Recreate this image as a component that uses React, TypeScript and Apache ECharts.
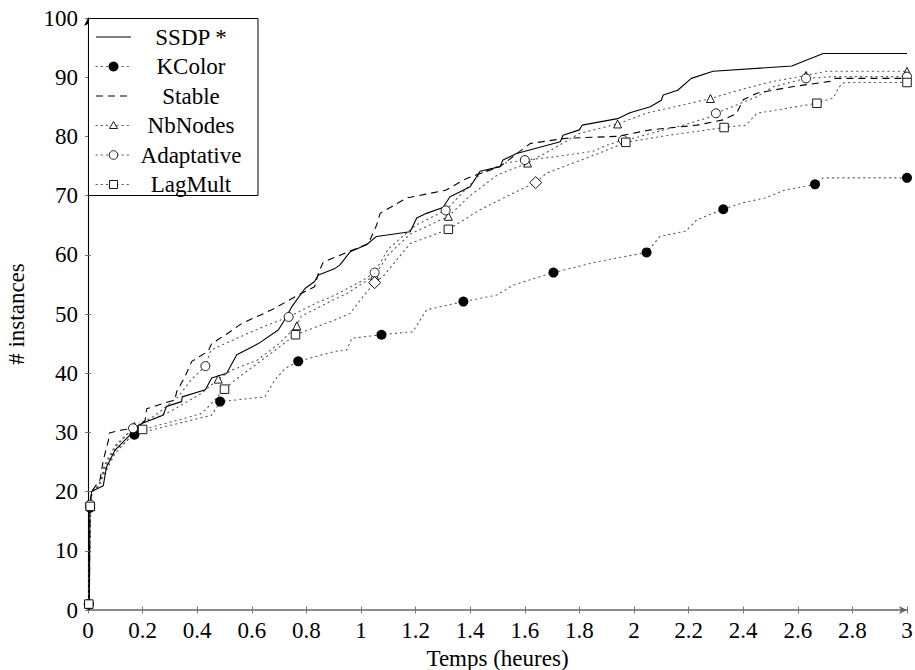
import React, { useEffect, useRef } from "react";
import * as echarts from "echarts";

// ---- axis set-up ----
const xRange = [0, 3];
const xStep = 0.2;
const yRange = [0, 100];
const yStep = 10;
const xTitle = "Temps (heures)";
const yTitle = "# instances";

// ---- series names ----
const seriesNames = ["SSDP *", "KColor", "Stable", "NbNodes", "Adaptative", "LagMult"];

// ---- curves (x in hours, y in instances) ----
const ssdp = [
  [0.005, 0], [0.007, 17.5], [0.013, 20], [0.056, 21], [0.068, 24.2], [0.099, 27], [0.135, 28.7],
  [0.172, 30.4], [0.197, 31.5], [0.275, 32.9], [0.288, 34.4], [0.343, 35.2], [0.345, 36], [0.43, 37.2],
  [0.453, 39.2], [0.508, 40], [0.545, 43.1], [0.624, 45], [0.697, 47.3], [0.72, 49], [0.746, 51.2],
  [0.795, 54.3], [0.83, 55.5], [0.844, 56.6], [0.905, 57.7], [0.923, 58.3], [0.96, 60.5], [1.02, 61.7],
  [1.057, 63.1], [1.18, 63.9], [1.204, 66.2], [1.24, 67], [1.3, 68], [1.326, 69.8], [1.4, 71.5],
  [1.436, 74.1], [1.51, 74.9], [1.52, 76], [1.57, 77.1], [1.73, 79.1], [1.74, 80.2], [1.8, 81.1],
  [1.81, 81.9], [1.94, 83], [1.985, 84], [2.06, 85], [2.1, 86.1], [2.107, 87], [2.16, 87.8],
  [2.21, 89.8], [2.29, 91], [2.578, 91.9], [2.693, 94], [3.0, 94],
];
const stable = [
  [0.005, 0], [0.007, 17.5], [0.013, 20], [0.044, 22], [0.056, 25.3], [0.075, 28.7], [0.078, 29.9],
  [0.123, 30.4], [0.172, 30.7], [0.209, 32], [0.215, 34], [0.318, 35.5], [0.325, 36.9], [0.355, 39.4],
  [0.38, 42], [0.44, 43.7], [0.453, 45], [0.514, 46.8], [0.563, 48.4], [0.673, 50.7], [0.782, 53.5],
  [0.83, 54.6], [0.844, 56.9], [0.862, 58.8], [0.911, 59.7], [1.027, 61.9], [1.057, 65], [1.07, 67],
  [1.167, 69.6], [1.31, 70.9], [1.387, 72.9], [1.509, 74.9], [1.62, 78.8], [1.753, 79.7], [1.937, 80],
  [2.06, 81.1], [2.23, 81.9], [2.327, 82.8], [2.376, 83.9], [2.4, 86.2], [2.45, 87.3], [2.58, 88.4],
  [2.718, 89.3], [2.73, 89.8], [3.0, 89.8],
];
const kcolor = [
  [0, 0], [0.003, 1], [0.008, 17.3], [0.015, 20], [0.04, 21], [0.06, 23.5], [0.1, 27], [0.17, 29.6],
  [0.233, 30.4], [0.453, 32.9], [0.484, 35.2], [0.648, 36], [0.685, 38.9], [0.722, 40.8], [0.77, 42],
  [0.905, 43.7], [0.948, 43.9], [0.966, 45.9], [1.075, 46.5], [1.19, 47], [1.24, 50.7], [1.375, 52.1],
  [1.497, 53.2], [1.558, 54.9], [1.705, 57], [1.863, 58.8], [2.046, 60.4], [2.095, 63.1], [2.19, 64],
  [2.23, 65.9], [2.327, 67.7], [2.4, 68.8], [2.48, 69.6], [2.55, 70.9], [2.663, 71.9], [2.693, 73], [3.0, 73],
];
const nbNodes = [
  [0, 0], [0.003, 1], [0.008, 17.5], [0.015, 20], [0.04, 21], [0.06, 24], [0.1, 27.5], [0.17, 31],
  [0.3, 33.5], [0.416, 36.6], [0.477, 39], [0.526, 40.5], [0.62, 42.2], [0.7, 45], [0.765, 48],
  [0.78, 49.6], [0.9, 52.4], [0.95, 53.5], [1.0, 55], [1.05, 56.5], [1.1, 60], [1.18, 63.5], [1.32, 66.5],
  [1.4, 70], [1.5, 73.5], [1.61, 75.5], [1.7, 77.8], [1.8, 80.5], [1.94, 82.1], [2.05, 84], [2.15, 85],
  [2.28, 86.4], [2.4, 88], [2.5, 89.2], [2.63, 90.3], [2.705, 91], [3.0, 91],
];
const adaptative = [
  [0, 0], [0.003, 1], [0.008, 17.8], [0.015, 20], [0.04, 21], [0.06, 24.5], [0.1, 27.8], [0.165, 30.7],
  [0.25, 33], [0.33, 36], [0.38, 39], [0.43, 41.2], [0.45, 43.9], [0.55, 46], [0.65, 48], [0.735, 49.5],
  [0.82, 51.5], [0.905, 53.2], [1.0, 55.5], [1.05, 57], [1.1, 61], [1.2, 65], [1.31, 67.5], [1.38, 70.9],
  [1.44, 73.8], [1.53, 75.5], [1.6, 76], [1.7, 76.5], [1.85, 77.5], [1.9, 78.5], [1.96, 79.4], [2.0, 79.7],
  [2.06, 80.5], [2.18, 81.9], [2.28, 83.3], [2.3, 83.9], [2.45, 86.7], [2.51, 88.4], [2.63, 89.8],
  [2.73, 90.1], [3.0, 90.1],
];
const lagMult = [
  [0, 0], [0.003, 1], [0.008, 17.5], [0.015, 20], [0.04, 21], [0.06, 23], [0.1, 26.5], [0.15, 29],
  [0.2, 30.5], [0.355, 32.4], [0.416, 33.2], [0.453, 34.9], [0.5, 37.3], [0.54, 38.9], [0.66, 43],
  [0.76, 46.5], [0.905, 49], [0.96, 50.1], [1.0, 52.5], [1.05, 55.3], [1.08, 56.3], [1.18, 61.9],
  [1.32, 64.3], [1.436, 67.6], [1.557, 70.4], [1.64, 72.2], [1.68, 73.8], [1.875, 77.2], [1.97, 79],
  [2.1, 80], [2.33, 81.5], [2.41, 81.9], [2.45, 83.9], [2.67, 85.6], [2.73, 86.5], [2.75, 88.3],
  [2.77, 89.1], [3.0, 89.1],
];

// ---- marked points ----
const kcolorMarks = [
  [0.003, 1], [0.008, 17.3], [0.17, 29.6], [0.484, 35.2], [0.77, 42], [1.075, 46.5], [1.375, 52.1],
  [1.705, 57], [2.046, 60.4], [2.327, 67.7], [2.663, 71.9], [3.0, 73],
];
const nbNodesMarks = [
  [0.003, 1], [0.008, 17.5], [0.17, 31], [0.477, 39], [0.765, 48], [1.05, 56.5], [1.32, 66.5],
  [1.61, 75.5], [1.94, 82.1], [2.28, 86.4], [2.63, 90.3], [3.0, 91],
];
const adaptativeMarks = [
  [0.003, 1], [0.008, 17.8], [0.165, 30.7], [0.43, 41.2], [0.735, 49.5], [1.05, 57], [1.31, 67.5],
  [1.6, 76], [1.96, 79.4], [2.3, 83.9], [2.63, 89.8], [3.0, 90.1],
];
const lagMultMarks = [
  [0.003, 1], [0.008, 17.5], [0.2, 30.5], [0.5, 37.3], [0.76, 46.5], [1.05, 55.3], [1.32, 64.3],
  [1.64, 72.2], [1.97, 79], [2.33, 81.5], [2.67, 85.6], [3.0, 89.1],
];
const lagMultTurned = [5, 7];

const FONT = "Liberation Serif, DejaVu Serif, serif";
const DOT = "#555";

export default function App() {
  const ref = useRef<HTMLDivElement>(null);

  useEffect(() => {
    if (!ref.current) return;
    const chart = echarts.init(ref.current, undefined, { renderer: "svg" });

    const solid = { color: "#000", width: 1.1, type: "solid" as const };
    const dashed = { color: "#000", width: 1.1, type: [7, 5] };
    const dotted = { color: DOT, width: 1.1, type: [1.2, 4], cap: "round" };

    const lineSeries = (name: string, data: number[][], ls: any) => ({
      name,
      type: "line",
      data,
      symbol: "none",
      lineStyle: ls,
      z: 2,
      animation: false,
    });
    const markSeries = (name: string, data: any[], symbol: string, size: number, filled: boolean) => ({
      name: name + " marks",
      type: "scatter",
      data,
      symbol,
      symbolSize: size,
      itemStyle: filled
        ? { color: "#000", opacity: 1 }
        : { color: "#fff", borderColor: "#000", borderWidth: 0.9, opacity: 1 },
      z: 3,
      animation: false,
    });

    // legend drawn in a framed box
    const lx0 = 88.5, ly0 = 18.5, lw = 169.5, lh = 177;
    const rowY = (i: number) => 37 + i * 29.5;
    const legendStyles = [
      { ls: solid, mark: null },
      { ls: dotted, mark: "fcircle" },
      { ls: dashed, mark: null },
      { ls: dotted, mark: "triangle" },
      { ls: dotted, mark: "circle" },
      { ls: dotted, mark: "square" },
    ];
    const graphic: any[] = [
      {
        type: "rect",
        z: 100,
        shape: { x: lx0, y: ly0, width: lw, height: lh },
        style: { fill: "#fff", stroke: "#000", lineWidth: 1 },
      },
    ];
    seriesNames.forEach((name, i) => {
      const y = rowY(i);
      const st = legendStyles[i];
      graphic.push({
        type: "line",
        z: 101,
        shape: { x1: 96, y1: y, x2: 131, y2: y },
        style: {
          stroke: st.ls.color,
          lineWidth: st.ls.width,
          lineDash: Array.isArray(st.ls.type) ? st.ls.type : null,
          lineCap: st.ls === dotted ? "round" : "butt",
        },
      });
      const cx = 113.5;
      if (st.mark === "fcircle") {
        graphic.push({ type: "circle", z: 102, shape: { cx, cy: y, r: 5 }, style: { fill: "#000" } });
      } else if (st.mark === "circle") {
        graphic.push({ type: "circle", z: 102, shape: { cx, cy: y, r: 4.3 }, style: { fill: "#fff", stroke: "#000", lineWidth: 0.9 } });
      } else if (st.mark === "triangle") {
        graphic.push({
          type: "polygon", z: 102,
          shape: { points: [[cx, y - 4], [cx + 4, y + 3], [cx - 4, y + 3]] },
          style: { fill: "#fff", stroke: "#000", lineWidth: 0.9 },
        });
      } else if (st.mark === "square") {
        graphic.push({ type: "rect", z: 102, shape: { x: cx - 4, y: y - 4, width: 8, height: 8 }, style: { fill: "#fff", stroke: "#000", lineWidth: 0.9 } });
      }
      graphic.push({
        type: "text",
        z: 102,
        x: 191,
        y,
        style: {
          text: name,
          fontFamily: FONT,
          fontSize: 23,
          fill: "#000",
          align: "center",
          verticalAlign: "middle",
        },
      });
    });

    const labelStyle = { fontFamily: FONT, fontSize: 23, color: "#000" };

    chart.setOption({
      animation: false,
      textStyle: { fontFamily: FONT },
      grid: { left: 88, right: 8, top: 18, bottom: 60, containLabel: false, outerBoundsMode: "none" },
      xAxis: [
        {
          type: "value",
          min: xRange[0],
          max: xRange[1],
          interval: xStep,
          position: "bottom",
          name: xTitle,
          nameLocation: "middle",
          nameGap: 35,
          nameTextStyle: labelStyle,
          axisLine: { show: true, lineStyle: { color: "#666", width: 1.6 }, symbol: ["none", "arrow"], symbolSize: [6, 8] },
          axisTick: { show: true, length: 3.5, lineStyle: { color: "#777", width: 1 } },
          axisLabel: { ...labelStyle, margin: 9 },
          splitLine: { show: false },
        },
        {
          type: "value",
          min: xRange[0],
          max: xRange[1],
          interval: xStep,
          position: "bottom",
          axisLine: { show: false },
          axisTick: { show: true, inside: true, length: 3.5, lineStyle: { color: "#777", width: 1 } },
          axisLabel: { show: false },
          splitLine: { show: false },
        },
      ],
      yAxis: [
        {
          type: "value",
          min: yRange[0],
          max: yRange[1],
          interval: yStep,
          position: "left",
          name: yTitle,
          nameLocation: "middle",
          nameGap: 60,
          nameRotate: 90,
          nameTextStyle: labelStyle,
          axisLine: { show: true, lineStyle: { color: "#000", width: 1.1 }, symbol: ["none", "arrow"], symbolSize: [6, 8] },
          axisTick: { show: true, length: 3, lineStyle: { color: "#777", width: 1 } },
          axisLabel: { ...labelStyle, margin: 10 },
          splitLine: { show: false },
        },
        {
          type: "value",
          min: yRange[0],
          max: yRange[1],
          interval: yStep,
          position: "left",
          axisLine: { show: false },
          axisTick: { show: true, inside: true, length: 3, lineStyle: { color: "#777", width: 1 } },
          axisLabel: { show: false },
          splitLine: { show: false },
        },
      ],
      graphic,
      series: [
        lineSeries(seriesNames[1], kcolor, dotted),
        lineSeries(seriesNames[3], nbNodes, dotted),
        lineSeries(seriesNames[4], adaptative, dotted),
        lineSeries(seriesNames[5], lagMult, dotted),
        lineSeries(seriesNames[2], stable, dashed),
        lineSeries(seriesNames[0], ssdp, solid),
        markSeries(seriesNames[1], kcolorMarks, "circle", 10, true),
        markSeries(seriesNames[3], nbNodesMarks, "triangle", 8, false),
        markSeries(seriesNames[4], adaptativeMarks, "circle", 9, false),
        markSeries(
          seriesNames[5],
          lagMultMarks.map((p, i) => (lagMultTurned.includes(i) ? { value: p, symbolRotate: 45 } : p)),
          "rect",
          8.5,
          false
        ),
      ],
    });

    return () => chart.dispose();
  }, []);

  return (
    <div
      ref={ref}
      style={{ position: "fixed", left: 0, top: 0, width: 915, height: 670, background: "#fff" }}
    />
  );
}
